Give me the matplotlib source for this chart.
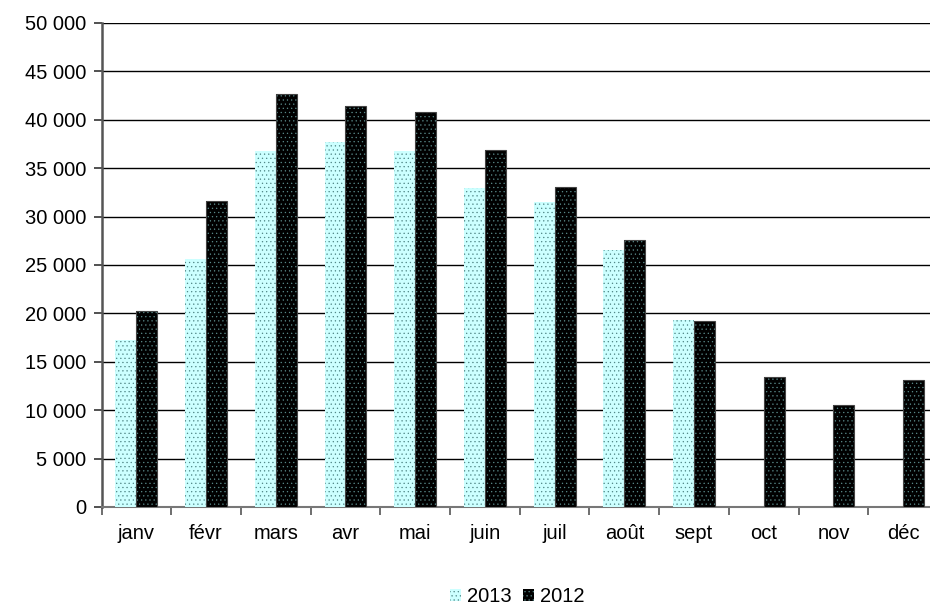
import matplotlib
matplotlib.use("Agg")
import matplotlib.pyplot as plt
from matplotlib.ticker import FuncFormatter, FixedLocator
import numpy as np

plt.rcParams['font.family'] = ['Liberation Sans', 'DejaVu Sans']
plt.rcParams['hatch.linewidth'] = 0.4

months = ['janv', 'févr', 'mars', 'avr', 'mai', 'juin', 'juil', 'août', 'sept', 'oct', 'nov', 'déc']
v2013 = [17300, 25600, 36800, 37700, 36800, 33000, 31500, 26600, 19300, np.nan, np.nan, np.nan]
v2012 = [20200, 31600, 42700, 41400, 40800, 36900, 33100, 27600, 19200, 13400, 10500, 13100]
yticks = list(range(0, 50001, 5000))

FS = 14.5
fig = plt.figure(figsize=(9.3, 6.05), dpi=100)
ax = fig.add_axes([101.5 / 930, 1 - 507 / 605, 836.5 / 930, 484 / 605])

x = np.arange(len(months))
w = 0.30
b1 = ax.bar(x - w / 2, v2013, w, color='#ccffff', edgecolor='#4f8585', hatch='....', linewidth=0, label='2013', zorder=3)
b2 = ax.bar(x + w / 2, v2012, w, color='#000000', edgecolor='#5a8a8a', hatch='....', linewidth=0, label='2012', zorder=3)
for r in b2:
    if np.isnan(r.get_height()):
        continue
    r2 = plt.Rectangle(r.get_xy(), r.get_width(), r.get_height(), fill=False, edgecolor='#444444', linewidth=0.8, zorder=4)
    ax.add_patch(r2)

ax.set_xlim(-0.5, len(months) - 0.5)
ax.set_ylim(0, 50000)
ax.set_yticks(yticks)
ax.yaxis.set_major_formatter(FuncFormatter(lambda v, p: f"{int(v):,}".replace(",", " ")))
ax.set_xticks(x)
ax.set_xticklabels(months)
ax.xaxis.set_minor_locator(FixedLocator(np.arange(-0.5, len(months), 1.0)))
ax.tick_params(axis='x', which='major', length=0, pad=12, labelsize=FS)
ax.tick_params(axis='x', which='minor', length=6, width=1.2, color='#555555', direction='out')
ax.tick_params(axis='y', length=6, width=1.2, color='#333333', labelsize=FS, pad=5)

ax.grid(axis='y', color='#000000', linewidth=1.0, zorder=0)
for s in ['top', 'right']:
    ax.spines[s].set_visible(False)
ax.spines['left'].set_color('#555555')
ax.spines['left'].set_linewidth(1.8)
ax.spines['bottom'].set_color('#777777')
ax.spines['bottom'].set_linewidth(1.5)

leg = ax.legend(loc='center', bbox_to_anchor=(0.497, -0.185), ncol=2, frameon=False,
                fontsize=FS, handlelength=0.55, handleheight=0.55, handletextpad=0.3, columnspacing=0.6)

fig.savefig('out.png', dpi=100)
